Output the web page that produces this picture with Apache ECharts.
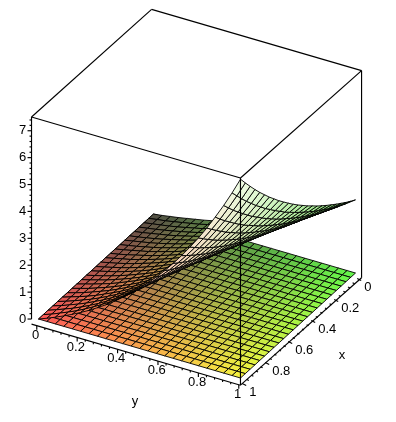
<!DOCTYPE html>
<html>
<head>
<meta charset="utf-8">
<script src="https://cdn.jsdelivr.net/npm/echarts@6/dist/echarts.min.js"></script>
<style>
  html, body { margin: 0; padding: 0; background: #fff; }
  #chart { width: 396px; height: 422px; }
</style>
</head>
<body>
<div id="chart"></div>
<script>
// sample positions along both horizontal axes
const xValues = [0, 0.0417, 0.0833, 0.125, 0.1667, 0.2083, 0.25, 0.2917, 0.3333, 0.375, 0.4167, 0.4583, 0.5, 0.5417, 0.5833, 0.625, 0.6667, 0.7083, 0.75, 0.7917, 0.8333, 0.875, 0.9167, 0.9583, 1];
const yValues = [0, 0.0417, 0.0833, 0.125, 0.1667, 0.2083, 0.25, 0.2917, 0.3333, 0.375, 0.4167, 0.4583, 0.5, 0.5417, 0.5833, 0.625, 0.6667, 0.7083, 0.75, 0.7917, 0.8333, 0.875, 0.9167, 0.9583, 1];

// height of the flat sheet
const floorZ = 0;

// height of the raised sheet, one row per y value, one column per x value
const surfaceZ = [
  [0,0,0,0,0,0,0,0,0,0,0,0,0,0,0,0,0,0,0,0,0,0,0,0,0],
  [.04,.05,.05,.05,.05,.05,.06,.06,.06,.06,.07,.07,.07,.08,.08,.08,.09,.09,.09,.10,.10,.10,.11,.11,.12],
  [.09,.09,.10,.10,.11,.11,.12,.12,.13,.13,.14,.14,.15,.16,.16,.17,.18,.18,.19,.20,.21,.22,.23,.24,.25],
  [.14,.15,.15,.16,.17,.17,.18,.19,.20,.21,.21,.22,.23,.24,.25,.26,.28,.29,.30,.31,.33,.34,.35,.37,.39],
  [.20,.21,.21,.22,.23,.24,.25,.26,.27,.29,.30,.31,.32,.34,.35,.37,.38,.40,.42,.43,.45,.47,.49,.51,.54],
  [.26,.27,.28,.29,.30,.32,.33,.34,.36,.37,.39,.41,.42,.44,.46,.48,.50,.52,.54,.57,.59,.62,.64,.67,.70],
  [.32,.33,.35,.36,.38,.40,.41,.43,.45,.47,.49,.51,.53,.55,.58,.60,.63,.65,.68,.71,.74,.77,.80,.84,.87],
  [.39,.41,.42,.44,.46,.48,.50,.52,.54,.57,.59,.62,.64,.67,.70,.73,.76,.79,.83,.86,.90,.94,.98,1.02,1.06],
  [.47,.49,.51,.53,.55,.57,.60,.62,.65,.68,.71,.74,.77,.80,.83,.87,.91,.94,.98,1.03,1.07,1.12,1.16,1.21,1.26],
  [.55,.57,.59,.62,.64,.67,.70,.73,.76,.79,.83,.86,.90,.94,.98,1.02,1.06,1.11,1.16,1.20,1.26,1.31,1.36,1.42,1.48],
  [.63,.66,.69,.72,.75,.78,.81,.85,.88,.92,.96,1.00,1.04,1.09,1.13,1.18,1.23,1.28,1.34,1.40,1.45,1.52,1.58,1.65,1.72],
  [.72,.76,.79,.82,.86,.89,.93,.97,1.01,1.05,1.10,1.15,1.20,1.25,1.30,1.35,1.41,1.47,1.53,1.60,1.67,1.74,1.81,1.89,1.97],
  [.82,.86,.90,.93,.97,1.02,1.06,1.10,1.15,1.20,1.25,1.30,1.36,1.42,1.48,1.54,1.61,1.67,1.75,1.82,1.90,1.98,2.06,2.15,2.24],
  [.93,.97,1.01,1.06,1.10,1.15,1.20,1.25,1.30,1.35,1.41,1.47,1.54,1.60,1.67,1.74,1.81,1.89,1.97,2.05,2.14,2.23,2.33,2.43,2.53],
  [1.05,1.09,1.14,1.18,1.23,1.29,1.34,1.40,1.46,1.52,1.59,1.65,1.72,1.80,1.87,1.95,2.04,2.12,2.21,2.31,2.41,2.51,2.61,2.73,2.84],
  [1.17,1.22,1.27,1.32,1.38,1.44,1.50,1.56,1.63,1.70,1.77,1.85,1.93,2.01,2.09,2.18,2.27,2.37,2.47,2.58,2.69,2.80,2.92,3.04,3.17],
  [1.30,1.35,1.41,1.47,1.53,1.60,1.67,1.74,1.81,1.89,1.97,2.05,2.14,2.23,2.33,2.43,2.53,2.64,2.75,2.87,2.99,3.11,3.25,3.39,3.53],
  [1.44,1.50,1.56,1.63,1.70,1.77,1.85,1.93,2.01,2.09,2.18,2.27,2.37,2.47,2.58,2.69,2.80,2.92,3.04,3.17,3.31,3.45,3.60,3.75,3.91],
  [1.59,1.66,1.73,1.80,1.88,1.96,2.04,2.13,2.22,2.31,2.41,2.51,2.62,2.73,2.85,2.97,3.09,3.22,3.36,3.50,3.65,3.81,3.97,4.14,4.32],
  [1.75,1.82,1.90,1.98,2.06,2.15,2.24,2.34,2.44,2.54,2.65,2.76,2.88,3.00,3.13,3.26,3.40,3.55,3.70,3.86,4.02,4.19,4.37,4.56,4.75],
  [1.92,2.00,2.08,2.17,2.27,2.36,2.46,2.57,2.68,2.79,2.91,3.03,3.16,3.30,3.44,3.58,3.73,3.89,4.06,4.23,4.41,4.60,4.80,5.00,5.21],
  [2.10,2.19,2.28,2.38,2.48,2.59,2.70,2.81,2.93,3.05,3.18,3.32,3.46,3.61,3.76,3.92,4.09,4.26,4.44,4.63,4.83,5.04,5.25,5.47,5.71],
  [2.29,2.39,2.49,2.60,2.71,2.82,2.94,3.07,3.20,3.34,3.48,3.63,3.78,3.94,4.11,4.28,4.47,4.66,4.85,5.06,5.28,5.50,5.73,5.98,6.23],
  [2.50,2.61,2.72,2.83,2.95,3.08,3.21,3.34,3.49,3.64,3.79,3.95,4.12,4.29,4.48,4.67,4.87,5.07,5.29,5.51,5.75,5.99,6.25,6.52,6.79],
  [2.72,2.83,2.95,3.08,3.21,3.35,3.49,3.64,3.79,3.96,4.12,4.30,4.48,4.67,4.87,5.08,5.29,5.52,5.75,6.00,6.25,6.52,6.80,7.09,7.39]
];

// tick labels
const xTicks = [0, 0.2, 0.4, 0.6, 0.8, 1];
const yTicks = [0, 0.2, 0.4, 0.6, 0.8, 1];
const zTicks = [0, 1, 2, 3, 4, 5, 6, 7];

// extent of the frame, the far side sits a little differently on the page
const xRange = [-0.015, 1.015];
const yRange = [-0.026, 1.0084];
const farYRange = [-0.018, 1.0215];
const zRange = [0, 7.51];
const axisDropZ = -0.19;

// parallel projection onto the page, in pixels
const origin = [153.5, 214];
const xStep = [-115, 105];
const yStep = [202, 59];
const zStep = [0, -26.9];

// the direction the projection collapses, used to order the cells
const viewDir = [202, 115, 1040];

const project = (x, y, z) => [
  origin[0] + xStep[0] * x + yStep[0] * y + zStep[0] * z,
  origin[1] + xStep[1] * x + yStep[1] * y + zStep[1] * z,
];

const mix = (a, b, t) => a.map((v, k) => v + (b[k] - v) * t);

// bilinear colour across the xy square
const cornerColor = (c00, c10, c01, c11, x, y) => mix(mix(c00, c10, x), mix(c01, c11, x), y);

const topColor = (x, y) =>
  cornerColor([80, 78, 68], [255, 88, 88], [98, 248, 74], [248, 244, 64], x, y);

const undersideColor = (x, y) => {
  const t = Math.max(0, (y - 0.5) / 0.5);
  return cornerColor([150, 200, 120], [252, 190, 165], [125, 225, 105], [242, 255, 232], x, t);
};

const toRgb = (c) => `rgb(${c.map(Math.round).join(',')})`;

// flat sheet cells
const floorCells = [];
for (let j = 0; j < yValues.length - 1; j++) {
  for (let i = 0; i < xValues.length - 1; i++) {
    floorCells.push([i, j]);
  }
}

const cellCorners = (i, j, zAt) => [
  [xValues[i], yValues[j], zAt(i, j)],
  [xValues[i + 1], yValues[j], zAt(i + 1, j)],
  [xValues[i + 1], yValues[j + 1], zAt(i + 1, j + 1)],
  [xValues[i], yValues[j + 1], zAt(i, j + 1)],
];

const surfaceAt = (i, j) => surfaceZ[j][i];
const floorAt = () => floorZ;

// raised sheet cells, far ones first
const cellDepth = ([i, j]) =>
  cellCorners(i, j, surfaceAt).reduce(
    (sum, p) => sum + p[0] * viewDir[0] + p[1] * viewDir[1] + p[2] * viewDir[2], 0);
const surfaceCells = floorCells.slice().sort((a, b) => cellDepth(a) - cellDepth(b));

const signedArea = (pts) => {
  let area = 0;
  pts.forEach((p, k) => {
    const q = pts[(k + 1) % pts.length];
    area += p[0] * q[1] - q[0] * p[1];
  });
  return area;
};

const cellShape = (pts, color, api) => ({
  type: 'polygon',
  shape: { points: pts.map((p) => api.coord(p)) },
  style: { fill: toRgb(color), stroke: '#000', lineWidth: 0.9 },
});

const renderFloor = (params, api) => {
  const i = api.value(0);
  const j = api.value(1);
  const pts = cellCorners(i, j, floorAt).map((p) => project(p[0], p[1], p[2]));
  return cellShape(pts, topColor((xValues[i] + xValues[i + 1]) / 2, (yValues[j] + yValues[j + 1]) / 2), api);
};

const renderSurface = (params, api) => {
  const i = api.value(0);
  const j = api.value(1);
  const pts = cellCorners(i, j, surfaceAt).map((p) => project(p[0], p[1], p[2]));
  const cx = (xValues[i] + xValues[i + 1]) / 2;
  const cy = (yValues[j] + yValues[j + 1]) / 2;
  const flat = signedArea(cellCorners(i, j, floorAt).map((p) => project(p[0], p[1], p[2])));
  const sameSide = signedArea(pts) * flat > 0;
  return cellShape(pts, sameSide ? topColor(cx, cy) : undersideColor(cx, cy), api);
};

// frame edges and tick marks, as pairs of 3d points with a page offset on the second
const frameSegments = [];
const addEdge = (a, b) => frameSegments.push({ from: project(...a), to: project(...b) });
const addTick = (a, dx, dy) => {
  const p = project(...a);
  frameSegments.push({ from: p, to: [p[0] + dx, p[1] + dy] });
};

const [x0, x1] = xRange;
const [y0, y1] = yRange;
const [fy0, fy1] = farYRange;
const [z0, z1] = zRange;
addEdge([x1, y0, z1], [x0, fy0, z1]);
addEdge([x0, fy0, z1], [x0, fy1, z1]);
addEdge([x0, fy1, z1], [x1, y1, z1]);
addEdge([x1, y1, z1], [x1, y0, z1]);
addEdge([x1, y0, z1], [x1, y0, z0]);
addEdge([x1, y1, z1], [x1, y1, axisDropZ]);
addEdge([x0, fy1, z1], [x0, fy1, axisDropZ]);
addEdge([x1, y0, axisDropZ], [x1, y1, axisDropZ]);
addEdge([x1, y1, axisDropZ], [x0, fy1, axisDropZ]);

for (let k = 0; k <= 37; k++) {
  const major = k % 5 === 0;
  addTick([x1, y0, (k * 2) / 10], major ? -4 : -2, 0);
}
for (let k = 0; k <= 25; k++) {
  const major = k % 5 === 0;
  addTick([x1, k / 25, axisDropZ], 0, major ? 4 : 2);
  addTick([k / 25, y1, axisDropZ], major ? 4 : 2, major ? 2 : 1);
}

const renderFrame = (params, api) => {
  const seg = frameSegments[params.dataIndex];
  const a = api.coord(seg.from);
  const b = api.coord(seg.to);
  return {
    type: 'line',
    shape: { x1: a[0], y1: a[1], x2: b[0], y2: b[1] },
    style: { stroke: '#000', lineWidth: 1.15 },
  };
};

// text, anchored through the same projection
const labelFont = '13px "Liberation Sans", Arial, sans-serif';
const textItems = [
  ...zTicks.map((v) => {
    const p = project(x1, y0, v);
    return { text: String(v), pos: [p[0] - 9, p[1]], align: 'center' };
  }),
  ...yTicks.map((v) => ({ text: String(v), pos: project(1.026, v, -0.5), align: 'center' })),
  ...xTicks.map((v) => ({ text: String(v), pos: project(v, 1.043, -0.43), align: 'left' })),
  { text: 'y', pos: [135, 401], align: 'center' },
  { text: 'x', pos: [342, 355], align: 'center' },
];

const renderText = (params, api) => {
  const item = textItems[params.dataIndex];
  const p = api.coord(item.pos);
  return {
    type: 'text',
    style: {
      text: item.text,
      x: p[0],
      y: p[1],
      fill: '#000',
      font: labelFont,
      textAlign: item.align,
      textVerticalAlign: 'middle',
    },
  };
};

const chart = echarts.init(document.getElementById('chart'), null, { renderer: 'canvas' });

chart.setOption({
  animation: false,
  backgroundColor: '#fff',
  grid: { left: 0, right: 0, top: 0, bottom: 0 },
  xAxis: { type: 'value', min: 0, max: 396, show: false },
  yAxis: { type: 'value', min: 0, max: 422, inverse: true, show: false },
  series: [
    { type: 'custom', silent: true, clip: false, z: 1, data: floorCells, renderItem: renderFloor },
    { type: 'custom', silent: true, clip: false, z: 2, data: surfaceCells, renderItem: renderSurface },
    { type: 'custom', silent: true, clip: false, z: 3, data: frameSegments.map((s, k) => [k]), renderItem: renderFrame },
    { type: 'custom', silent: true, clip: false, z: 4, data: textItems.map((s, k) => [k]), renderItem: renderText },
  ],
});
</script>
</body>
</html>
